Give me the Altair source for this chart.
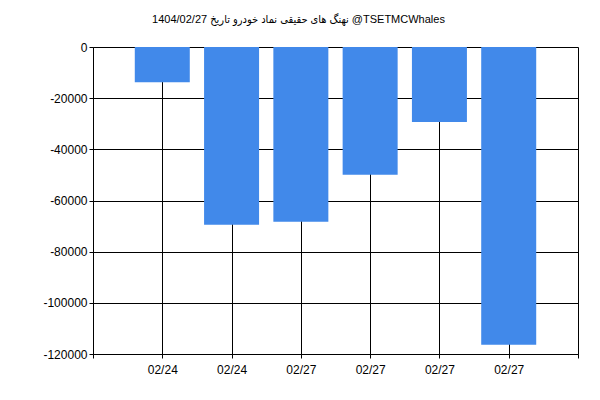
import altair as alt
import pandas as pd

labels = ["02/24", "02/24", "02/27", "02/27", "02/27", "02/27"]
values = [-13800, -69500, -68300, -49900, -29300, -116400]
positions = [1, 2, 3, 4, 5, 6]

df = pd.DataFrame({"pos": positions, "label": labels, "value": values})

label_arr = "[''," + ",".join("'" + l + "'" for l in labels) + ",'']"

title_text = "1404/02/27 نهنگ های حقیقی نماد خودرو تاریخ @TSETMCWhales"

chart = alt.Chart(df).mark_bar(color="#4189EA", width=55).encode(
    x=alt.X("pos:Q", scale=alt.Scale(domain=[0, 7], nice=False, zero=False, padding=0),
            axis=alt.Axis(values=[0, 1, 2, 3, 4, 5, 6, 7], labelExpr=label_arr + "[datum.value]",
                          title=None, grid=True, gridColor="black", gridOpacity=1,
                          domainColor="black", tickColor="black", tickSize=4,
                          labelColor="black", labelFont="Liberation Sans", labelFontSize=12,
                          labelPadding=6, labelAngle=0)),
    y=alt.Y("value:Q", scale=alt.Scale(domain=[-120000, 0], nice=False, padding=0),
            axis=alt.Axis(values=[-120000, -100000, -80000, -60000, -40000, -20000, 0],
                          labelExpr="'' + datum.value", title=None, grid=True,
                          gridColor="black", gridOpacity=1, domainColor="black",
                          tickColor="black", tickSize=4, labelColor="black",
                          labelFont="Liberation Sans", labelFontSize=12, labelPadding=2)),
).properties(
    width=485, height=307,
    title=alt.TitleParams(title_text,
                          font="Liberation Sans, 'DejaVu Sans Condensed'", fontSize=11,
                          fontWeight="normal",
                          color="black", anchor="middle", dx=-37, offset=16),
    autosize=alt.AutoSizeParams(type="none"),
    padding={"left": 85, "top": 39, "right": 4, "bottom": 28},
).configure_view(stroke=None)

chart.save("out.html", embed_options={"renderer": "svg", "actions": False})
